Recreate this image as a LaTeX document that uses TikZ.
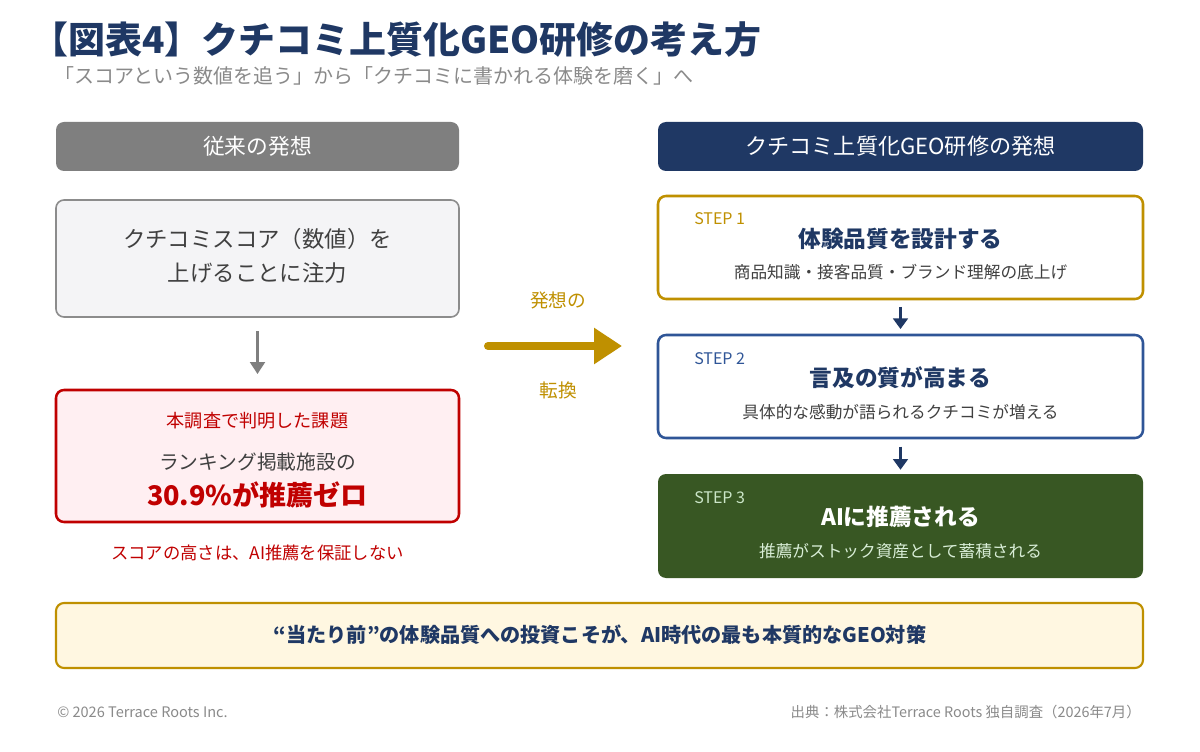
\documentclass[tikz,border=0pt]{standalone}
\usepackage{fontspec}
\setmainfont{Noto Sans CJK JP}
\usetikzlibrary{arrows.meta, positioning}

\definecolor{navy}{HTML}{1F3864}
\definecolor{headgray}{HTML}{7F7F7F}
\definecolor{boxgray}{HTML}{F4F4F6}
\definecolor{linegray}{HTML}{8C8C8C}
\definecolor{issuered}{HTML}{C00000}
\definecolor{issuefill}{HTML}{FFEFF2}
\definecolor{gold}{HTML}{BF9000}
\definecolor{stepblue}{HTML}{2F5597}
\definecolor{stepgreen}{HTML}{385723}
\definecolor{cream}{HTML}{FFF7E1}
\definecolor{textgray}{HTML}{404040}
\definecolor{subgray}{HTML}{8A8A8A}

\newcommand{\pxsize}[1]{\fontsize{#1}{#1}\selectfont}

\begin{document}
\begin{tikzpicture}[x=0.75pt, y=-0.75pt, every node/.style={inner sep=0pt},
	panel/.style={rounded corners=6pt, minimum height=#1*0.75pt},
	leftpanel/.style={panel=#1, minimum width=302.25pt},
	rightpanel/.style={panel=#1, minimum width=363.75pt},
	steplabel/.style={anchor=west, font=\pxsize{12pt}},
	steptitle/.style={font=\pxsize{17pt}\bfseries},
	stepnote/.style={font=\pxsize{12.5pt}},
	downarrow/.style={-{Triangle[length=8pt, width=11pt]}, line width=2.4pt, navy},]
\fill[white] (0,0) rectangle (1200,752);
\useasboundingbox (0,0) rectangle (1200,752);

\node[anchor=west, navy, font=\pxsize{27.7pt}\bfseries] (title) at (31,40) {【図表4】クチコミ上質化GEO研修の考え方};
\node[anchor=west, subgray, font=\pxsize{15pt}] (subtitle) at (54,76) {「スコアという数値を追う」から「クチコミに書かれる体験を磨く」へ};

\node[leftpanel=49, fill=headgray, text=white, font=\pxsize{16.3pt}] (oldhead) at (257.5,146.5) {従来の発想};
\node[leftpanel=117, fill=boxgray, draw=linegray, line width=1.2pt] (score) at (257.5,258.5) {};
\node[textgray, font=\pxsize{16.8pt}] (scoretext) at (257.5,258) {\begin{tabular}{c}クチコミスコア（数値）を\\[6pt]上げることに注力\end{tabular}};
\node[leftpanel=132, fill=issuefill, draw=issuered, line width=1.9pt] (issue) at (257.5,456) {};
\node[issuered, font=\pxsize{13.6pt}] (issuelabel) at (257.5,421) {本調査で判明した課題};
\node[textgray, font=\pxsize{14.8pt}] (issuetext) at (257.5,462) {ランキング掲載施設の};
\node[issuered, font=\pxsize{20.3pt}\bfseries] (issuenum) at (257.5,495) {30.9\%が推薦ゼロ};
\node[issuered, font=\pxsize{13pt}] (warning) at (257.5,553) {スコアの高さは、AI推薦を保証しない};
\draw[-{Triangle[length=9pt, width=11pt]}, line width=2.2pt, headgray, shorten <=10pt, shorten >=11pt] (score) -- (issue);

\coordinate (shiftA) at (488,346);
\coordinate (shiftB) at (622,346);
\draw[-{Triangle[length=21pt, width=26pt]}, line width=6pt, gold, line cap=round] (shiftA) -- (shiftB);
\node[gold, font=\pxsize{14pt}] (shiftup) at (558,300) {発想の};
\node[gold, font=\pxsize{14pt}] (shiftdown) at (558,390) {転換};

\node[rightpanel=49, fill=navy, text=white, font=\pxsize{16.6pt}] (newhead) at (900.5,146.5) {クチコミ上質化GEO研修の発想};

\node[rightpanel=103, fill=white, draw=gold, line width=1.9pt] (step1) at (900.5,247.5) {};
\node[steplabel, gold] at (694,219) {STEP 1};
\node[steptitle, navy] at (900.5,239) {体験品質を設計する};
\node[stepnote, textgray] at (900.5,272) {商品知識・接客品質・ブランド理解の底上げ};

\node[rightpanel=103, fill=white, draw=stepblue, line width=1.9pt] (step2) at (900.5,386.5) {};
\node[steplabel, stepblue] at (694,359) {STEP 2};
\node[steptitle, navy] at (900.5,378) {言及の質が高まる};
\node[stepnote, textgray] at (900.5,412) {具体的な感動が語られるクチコミが増える};

\node[rightpanel=104, fill=stepgreen] (step3) at (900.5,526) {};
\node[steplabel, green!10!white!85!stepgreen] at (694,498) {STEP 3};
\node[steptitle, white] at (900.5,517) {AIに推薦される};
\node[stepnote, green!8!white!90!stepgreen] at (900.5,551) {推薦がストック資産として蓄積される};

\draw[downarrow, shorten <=5pt, shorten >=3.5pt] (step1) -- (step2);
\draw[downarrow, shorten <=5.5pt, shorten >=3pt] (step2) -- (step3);

\node[panel=65, minimum width=815.25pt, fill=cream, draw=gold, line width=1.6pt] (summary) at (599.5,635.5) {};
\node[navy, font=\pxsize{15.1pt}\bfseries] (summarytext) at (600,635) {“当たり前”の体験品質への投資こそが、AI時代の最も本質的なGEO対策};

\node[anchor=west, subgray, font=\pxsize{10.9pt}] (copyright) at (57,712) {© 2026 Terrace Roots Inc.};
\node[anchor=east, subgray, font=\pxsize{10.8pt}] (source) at (1141,712) {出典：株式会社Terrace Roots 独自調査（2026年7月）};
\end{tikzpicture}
\end{document}
